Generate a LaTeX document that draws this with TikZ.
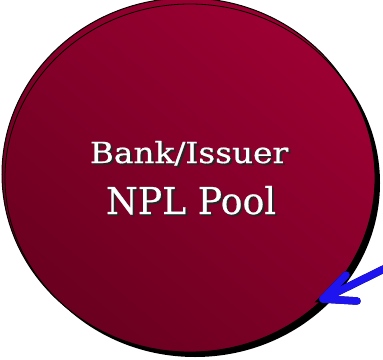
\documentclass[tikz,border=0pt]{standalone}
\usepackage{fontspec}
\setmainfont{DejaVu Serif}
\newfontfamily\poolfont[FakeBold=0.6]{DejaVu Serif}
\definecolor{redlight}{HTML}{9C0032}
\definecolor{reddark}{HTML}{6A0020}
\definecolor{arrowblue}{HTML}{1E14F0}
\tikzset{
  poolfill/.style={top color=redlight, bottom color=reddark, shading angle=-40},
  label/.style={anchor=base, text=white, inner sep=0pt},
  arrowline/.style={draw=arrowblue, line width=7.5pt, line cap=round},
  arrowshadow/.style={draw=black, line width=7.5pt, line cap=round}
}
\newcommand{\shadowtext}[1]{\rlap{\hspace{1.8pt}\raisebox{-1.8pt}{\color{black!85}#1}}#1}
\newcommand{\bankline}{\scalebox{1.13}[1]{\poolfont\fontsize{29}{31}\selectfont\shadowtext{Bank/Issuer}}}
\newcommand{\poolline}{\scalebox{0.98}[1]{\poolfont\fontsize{37}{40}\selectfont\shadowtext{NPL Pool}}}
\begin{document}
\begin{tikzpicture}[x=1pt,y=-1pt]
\useasboundingbox (0,0) rectangle (383,359);
\begin{scope}
\clip (0,0) rectangle (383,359);
% back ellipse
\shade[poolfill, draw=black, line width=1pt] (187,174) ellipse [x radius=185, y radius=176];
% shadow of front ellipse
\fill[black] (195,183) ellipse [x radius=185, y radius=174];
% front ellipse
\shade[poolfill, draw=black, line width=0.8pt] (190,178) ellipse [x radius=185, y radius=174];
\node[circle, minimum size=1pt, inner sep=0pt] (pool) at (190,178) {};
% labels
\node[label] (l1) at (189,163) {\bankline};
\node[label] (l2) at (191,214) {\poolline};
% arrow
\coordinate (tip) at (323,299);
\coordinate (tail) at (392,265);
\coordinate (armA) at (346,275);
\coordinate (armB) at (357,301);
\begin{scope}[shift={(3,3)}]
\draw[arrowshadow] (tail) -- (tip);
\draw[arrowshadow] (armA) -- (tip) -- (armB);
\end{scope}
\draw[arrowline] (tail) -- (tip);
\draw[arrowline, line join=round] (armA) -- (tip) -- (armB);
\end{scope}
\end{tikzpicture}
\end{document}
